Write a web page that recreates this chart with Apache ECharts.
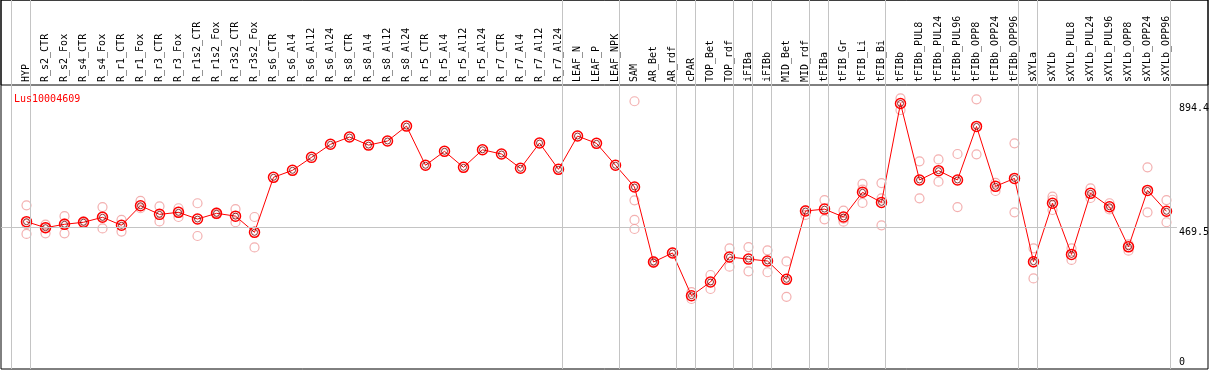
<!DOCTYPE html>
<html><head><meta charset="utf-8">
<script src="https://cdn.jsdelivr.net/npm/echarts@6/dist/echarts.min.js"></script>
<style>html,body{margin:0;padding:0;background:#fff}#c{width:1209px;height:370px}</style>
</head><body><div id="c"></div>
<script>
const chartTitle = 'Lus10004609';
const categories = ['HYP','R_s2_CTR','R_s2_Fox','R_s4_CTR','R_s4_Fox','R_r1_CTR','R_r1_Fox','R_r3_CTR','R_r3_Fox','R_r1s2_CTR','R_r1s2_Fox','R_r3s2_CTR','R_r3s2_Fox','R_s6_CTR','R_s6_Al4','R_s6_Al12','R_s6_Al24','R_s8_CTR','R_s8_Al4','R_s8_Al12','R_s8_Al24','R_r5_CTR','R_r5_Al4','R_r5_Al12','R_r5_Al24','R_r7_CTR','R_r7_Al4','R_r7_Al12','R_r7_Al24','LEAF_N','LEAF_P','LEAF_NPK','SAM','AR_Bet','AR_rdf','cPAR','TOP_Bet','TOP_rdf','iFIBa','iFIBb','MID_Bet','MID_rdf','tFIBa','tFIB_Gr','tFIB_Li','tFIB_Bi','tFIBb','tFIBb_PUL8','tFIBb_PUL24','tFIBb_PUL96','tFIBb_OPP8','tFIBb_OPP24','tFIBb_OPP96','sXYLa','sXYLb','sXYLb_PUL8','sXYLb_PUL24','sXYLb_PUL96','sXYLb_OPP8','sXYLb_OPP24','sXYLb_OPP96'];
const means = [490,469.5,481,488,505,477.6,544.6,515,522,499,518.6,509,453.6,641.8,665.7,710,754.7,779.7,752,766,817,683,730.7,676,736,721.5,672.6,759,669,783,758,683,608.6,352,383,236.8,283.6,369,362,355.5,292.8,526.5,533,506,590.5,556,894.4,632.6,664.5,632.6,816,611,638,353,553,378,587,541,404,597,525.5];
const rep1 = [546,480,509,491,540,496,561,542.5,536,553,521,533,506,null,null,null,null,null,null,null,null,null,null,null,null,null,null,null,null,null,null,null,902,349,384,249,307.6,399,403,392,354,530,564,527.5,619,622,912,696.5,703,721.5,908.6,623,758,399,575.5,399,604,553,412.6,676,564];
const rep2 = [448,450,450,486,467,456,536,491,506,441,516,488,402,null,null,null,null,null,null,null,null,null,null,null,null,null,null,null,null,null,null,null,563,355,null,225.5,259.7,336,320,317,233,513,498,490,600,570,872,570,627,540,720.5,595,522,296,530,359,571,532,390.7,522,488];
const rep3 = [482,470,484,null,508,null,null,null,524,null,null,null,null,null,null,null,null,null,null,null,null,null,null,null,null,null,null,null,null,null,null,null,496,null,null,null,null,null,null,null,null,null,null,500,554,477.6,null,null,null,null,null,null,null,350,565,null,null,null,null,null,null];
const rep4 = [null,null,null,null,null,null,null,null,null,null,null,null,null,null,null,null,null,null,null,null,null,null,null,null,null,null,null,null,null,null,null,null,465,null,null,null,null,null,null,null,null,null,null,null,null,null,null,null,null,null,null,null,null,null,null,null,null,null,null,null,null];
const groupEnds = [-1,'HYP','R_r7_Al24','LEAF_NPK','AR_rdf','cPAR','TOP_rdf','iFIBa','iFIBb','MID_rdf','tFIBa','tFIB_Bi','tFIBb_OPP96','sXYLa','sXYLb_OPP96'];
const refValue = 469.5;
const yLabelValues = [894.4, 469.5, 0];

const FONT = 'DejaVu Sans Mono';
const xMin = -25.5/19, xMax = xMin + 1207/19;
const yMin = -14.0, yMax = 1248.4;
const xEnd = 60.55;

const repData = [];
[rep1, rep2, rep3, rep4].forEach(arr => arr.forEach((v, i) => { if (v != null) repData.push([i, v]); }));
const meanData = means.map((v, i) => [i, v]);
const sepData = groupEnds.map(g => ({ xAxis: (typeof g === 'number' ? g : categories.indexOf(g)) + 0.21 }));
const yLabelLines = yLabelValues.map(v => [
  { name: String(v), coord: [xMin, v],
    lineStyle: { color: v === refValue ? '#c4c4c4' : 'rgba(0,0,0,0)', width: 1, type: 'solid' },
    label: v === 0 ? { formatter: '{b}\n ', lineHeight: 6 } : { formatter: ' \n{b}', lineHeight: 9 } },
  { coord: [xEnd, v] }
]);

const chart = echarts.init(document.getElementById('c'), null, { renderer: 'canvas' });
chart.setOption({
  animation: false,
  backgroundColor: '#fff',
  title: { text: chartTitle, left: 9, top: 89, textStyle: { color: '#ff0000', fontSize: 10, fontWeight: 'normal', fontFamily: FONT } },
  grid: [
    { left: 1, right: 1, top: 0, bottom: 1, show: true, borderColor: '#000', borderWidth: 1, backgroundColor: 'rgba(0,0,0,0)' },
    { left: 1, right: 1, top: 0, height: 85, show: true, borderColor: '#000', borderWidth: 1, backgroundColor: 'rgba(0,0,0,0)' },
    { left: 17, right: 33, top: 85, height: 1 }
  ],
  xAxis: [
    { type: 'value', gridIndex: 0, min: xMin, max: xMax, show: false },
    { type: 'value', gridIndex: 1, min: 0, max: 1, show: false },
    { type: 'category', gridIndex: 2, data: categories, position: 'top', boundaryGap: true,
      axisLine: { show: false }, axisTick: { show: false },
      axisLabel: { interval: 0, rotate: 90, margin: 3, fontSize: 10, fontFamily: FONT, color: '#000' } }
  ],
  yAxis: [
    { type: 'value', gridIndex: 0, min: yMin, max: yMax, show: false },
    { type: 'value', gridIndex: 1, min: 0, max: 1, show: false },
    { type: 'value', gridIndex: 2, min: 0, max: 1, show: false }
  ],
  series: [
    { type: 'line', xAxisIndex: 0, yAxisIndex: 0, data: [], z: 1, silent: true,
      markLine: { silent: true, symbol: ['none','none'], animation: false,
        lineStyle: { color: '#c4c4c4', width: 1, type: 'solid' },
        label: { show: false }, data: sepData } },
    { type: 'line', xAxisIndex: 0, yAxisIndex: 0, data: [], z: 1, silent: true,
      markLine: { silent: true, symbol: ['none','none'], animation: false,
        label: { show: true, position: 'end', distance: 2, formatter: '{b}', color: '#000', fontSize: 10, fontFamily: FONT },
        data: yLabelLines } },
    { type: 'scatter', xAxisIndex: 0, yAxisIndex: 0, data: repData, z: 2, symbol: 'circle', symbolSize: 9,
      itemStyle: { color: 'rgba(0,0,0,0)', borderColor: '#f09c9c', borderWidth: 1.2 } },
    { type: 'line', xAxisIndex: 0, yAxisIndex: 0, data: meanData, z: 3, symbol: 'circle', symbolSize: 10,
      lineStyle: { color: '#ff0000', width: 1 },
      itemStyle: { color: 'rgba(0,0,0,0)', borderColor: '#ff0000', borderWidth: 1.5 } },
    { type: 'scatter', xAxisIndex: 0, yAxisIndex: 0, data: meanData, z: 4, symbol: 'circle', symbolSize: 6,
      itemStyle: { color: 'rgba(0,0,0,0)', borderColor: '#700000', borderWidth: 1 } }
  ]
});
</script></body></html>
